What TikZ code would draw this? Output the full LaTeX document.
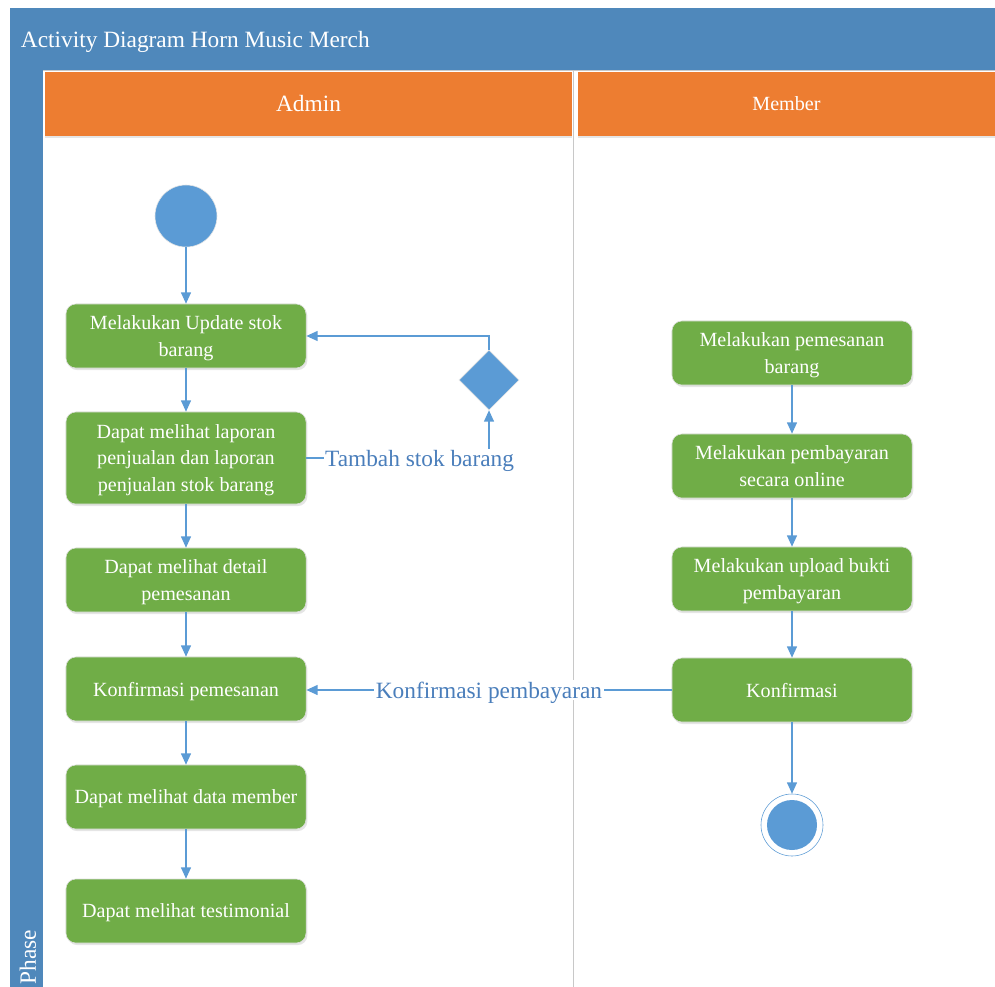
\documentclass[tikz,border=0pt]{standalone}
\usepackage{fontspec}
\setmainfont{Liberation Serif}
\usetikzlibrary{arrows.meta,shapes.geometric,shadows}
\definecolor{headblue}{RGB}{79,136,187}
\definecolor{laneorange}{RGB}{237,125,49}
\definecolor{actgreen}{RGB}{112,173,71}
\definecolor{nodeblue}{RGB}{91,155,213}
\definecolor{labelblue}{RGB}{74,126,187}
\definecolor{lanegray}{RGB}{200,200,200}
\begin{document}
\begin{tikzpicture}[x=0.025cm, y=-0.025cm,
  bigfont/.style={font=\fontsize{16.6}{20}\selectfont},
  actbox/.style={draw=black!12, fill=actgreen, text=white, rounded corners=7pt,
    minimum width=6cm, minimum height=1.6cm, align=center, text depth=0pt,
    font=\fontsize{14.3}{19}\selectfont,
    drop shadow={opacity=0.2, shadow xshift=1pt, shadow yshift=-1.5pt}},
  lanehead/.style={fill=laneorange, text=white, minimum height=1.575cm, inner sep=0pt,
    drop shadow={opacity=0.2, shadow xshift=0pt, shadow yshift=-1.5pt}},
  startnode/.style={circle, fill=nodeblue, draw=black!10, minimum size=1.55cm, inner sep=0pt},
  endouter/.style={circle, fill=white, draw=nodeblue, minimum size=1.55cm, inner sep=0pt},
  endinner/.style={circle, fill=nodeblue, minimum size=1.25cm, inner sep=0pt},
  decision/.style={diamond, aspect=1, fill=nodeblue, draw=black!10, minimum size=1.5cm, inner sep=0pt},
  flow/.style={draw=nodeblue, line width=1pt, -{Triangle[length=8pt,width=7pt]}},
  lbl/.style={bigfont, fill=white, text=labelblue, inner sep=1pt, text depth=0pt}]
  \clip (0,0) rectangle (995,987);
  \fill[white] (0,0) rectangle (995,987);

  % pool and lanes
  \fill[headblue] (10,8) rectangle (995,70);
  \node[bigfont, text=white, anchor=west] (title) at (16,42) {Activity Diagram Horn Music Merch};
  \draw[lanegray] (10,70) -- (995,70);
  \fill[headblue] (10,70) rectangle (43,987);
  \node[bigfont, text=white, rotate=90, anchor=east] (phase) at (28,925) {Phase};
  \draw[lanegray] (573,70) -- (573,987);
  \node[lanehead, bigfont, minimum width=13.175cm] (adminhead) at (308.5,104) {Admin};
  \node[lanehead, font=\fontsize{14.3}{18}\selectfont, minimum width=10.425cm] (memberhead) at (786.5,104) {Member};

  % admin lane
  \node[startnode] (start) at (186,216) {};
  \node[actbox] (update) at (186,336) {Melakukan Update stok\\barang};
  \node[actbox, minimum height=2.3cm] (laporan) at (186,458) {Dapat melihat laporan\\penjualan dan laporan\\penjualan stok barang};
  \node[actbox] (detail) at (186,580) {Dapat melihat detail\\pemesanan};
  \node[actbox] (konfpesan) at (186,689) {Konfirmasi pemesanan};
  \node[actbox] (datamember) at (186,797) {Dapat melihat data member};
  \node[actbox] (testimoni) at (186,911) {Dapat melihat testimonial};
  \node[decision] (cek) at (489,380) {};

  % member lane
  \node[actbox] (pesan) at (792,353) {Melakukan pemesanan\\barang};
  \node[actbox] (bayar) at (792,466) {Melakukan pembayaran\\secara online};
  \node[actbox] (upload) at (792,579) {Melakukan upload bukti\\pembayaran};
  \node[actbox] (konfirm) at (792,690) {Konfirmasi};
  \node[endouter] (end) at (792,825) {};
  \node[endinner] (endin) at (end) {};

  % flows
  \draw[flow] (start) -- (update);
  \draw[flow] (update) -- (laporan);
  \draw[flow] (laporan) -- (detail);
  \draw[flow] (detail) -- (konfpesan);
  \draw[flow] (konfpesan) -- (datamember);
  \draw[flow] (datamember) -- (testimoni);
  \draw[flow] (cek.north) |- (update.east);
  \draw[flow] (laporan.east) -| node[lbl, pos=0.31] {Tambah stok barang} (cek.south);
  \draw[flow] (pesan) -- (bayar);
  \draw[flow] (bayar) -- (upload);
  \draw[flow] (upload) -- (konfirm);
  \draw[flow] (konfirm) -- (end);
  \draw[flow] (konfirm.west) -- node[lbl] {Konfirmasi pembayaran} (konfirm.west -| konfpesan.east);
\end{tikzpicture}
\end{document}
